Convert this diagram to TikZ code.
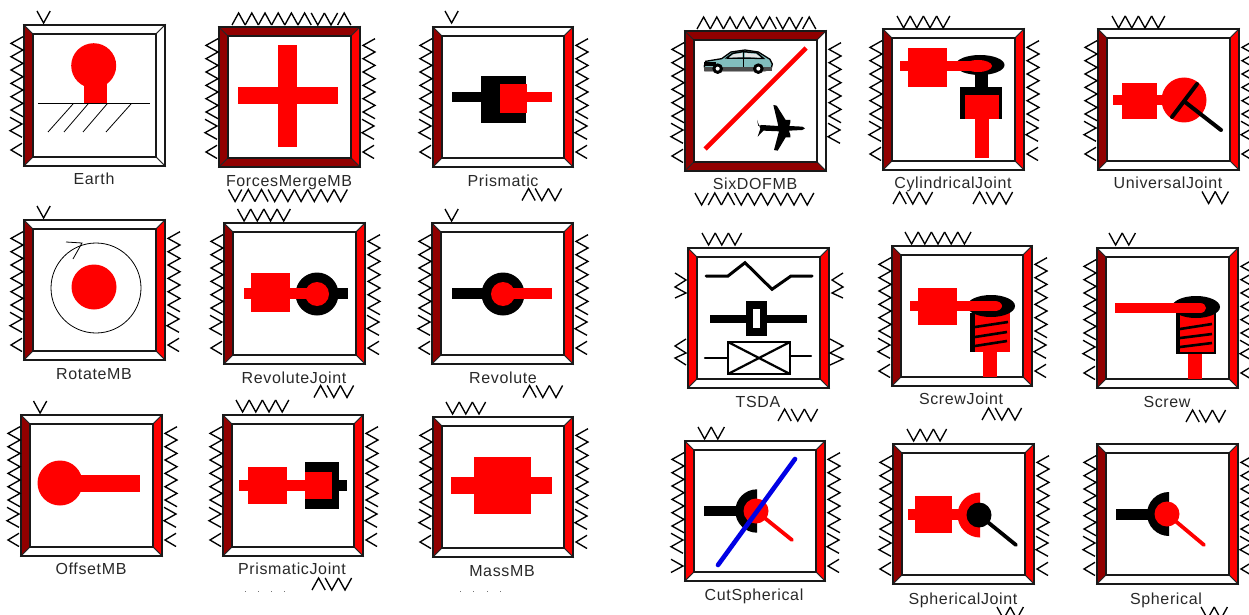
\documentclass[tikz,border=0pt]{standalone}
\usepackage{fontspec}
\setmainfont[LetterSpace=4]{Liberation Sans}
\definecolor{dk}{RGB}{145,0,0}
\definecolor{rd}{RGB}{255,0,0}
\definecolor{wh}{RGB}{255,255,255}
\definecolor{teal1}{RGB}{130,190,190}
\definecolor{txt}{RGB}{40,40,40}
\tikzset{
  portline/.style={line width=1.35pt,black,miter limit=10},
  bevel/.style={draw=black!85,line width=1pt,line join=miter},
  innerbox/.style={draw=black!90,line width=1.6pt,fill=white},
  lbl/.style={anchor=base,text=txt,inner sep=0pt,font=\fontsize{16}{18}\selectfont},
  thinl/.style={line width=0.8pt,black},
  rodr/.style={line width=3.8pt,rd,line cap=round},
  rodk/.style={line width=3.8pt,black,line cap=round}
}
% frame: x1 y1 x2 y2 left top right bottom
\newcommand\blockframe[8]{%
  \pgfmathsetmacro\xa{#1+9}\pgfmathsetmacro\xb{#3-9}%
  \pgfmathsetmacro\ya{#2+9}\pgfmathsetmacro\yb{#4-9}%
  \path[bevel,fill=#5] (#1,#2)--(\xa,\ya)--(\xa,\yb)--(#1,#4)--cycle;
  \path[bevel,fill=#6] (#1,#2)--(\xa,\ya)--(\xb,\ya)--(#3,#2)--cycle;
  \path[bevel,fill=#7] (#3,#2)--(\xb,\ya)--(\xb,\yb)--(#3,#4)--cycle;
  \path[bevel,fill=#8] (#1,#4)--(\xa,\yb)--(\xb,\yb)--(#3,#4)--cycle;
  \path[innerbox] (\xa,\ya) rectangle (\xb,\yb);
  \draw[black!90,line width=1.6pt] (#1,#2) rectangle (#3,#4);
}
\newcommand\zigtop{%
  \draw[portline] (-1,11.7)--(-13,18.4)--(-1,25)--(-13,31.7)--(-1,38.4)--(-13,45)--(-1,51.7)--(-13,58.4)--(-1,65)--(-13,71.7)--(-1,78.4)--(-13,85)--(-1,91.7);
  \draw[portline] (-14,92.3)--(-2,99)--(-14,105.7)--(-2,112.3);
}
\newcommand\portl[2]{\begin{scope}[shift={(#1,#2)}]\zigtop
  \draw[portline] (-2,118.3)--(-13,125)--(-2,131.5);\end{scope}}
\newcommand\portlcut[2]{\begin{scope}[shift={(#1,#2)}]\zigtop
  \draw[portline] (-14,118.3)--(-2,125)--(-14,131.5);\end{scope}}
\newcommand\portr[2]{\begin{scope}[shift={({#1+16},#2)}]\zigtop
  \draw[portline] (-2,118.3)--(-13,125)--(-2,131.5);\end{scope}}
\newcommand\portrshort[2]{\begin{scope}[shift={({#1+16},#2)}]\zigtop\end{scope}}
% glyph row: x0, ytop, list (1 = v, -1 = ^)
\newcommand\glyphs[3]{%
  \foreach \g [count=\ii from 0] in {#3}{%
    \draw[portline] ({#1+\ii*13.2},{#2+6-6*\g})--({#1+\ii*13.2+6.6},{#2+6+6*\g})--({#1+\ii*13.2+13.2},{#2+6-6*\g});
  }}
\begin{document}
\begin{tikzpicture}[x=1pt,y=-1pt]
\useasboundingbox (0,0) rectangle (1249,615);
\clip (0,0) rectangle (1249,615);

%% ---------- Earth
\blockframe{24}{25}{165}{166}{dk}{wh}{wh}{wh}
\portl{24}{25}
\glyphs{37}{11}{1}
\fill[rd] (93.7,65.7) circle (22.5);
\fill[rd] (84,80) rectangle (107,104);
\draw[thinl] (38,103.5)--(150,103.5);
\draw[thinl] (73,104)--(48,132);
\draw[thinl] (88,104)--(64,132);
\draw[thinl] (107,104)--(83,132);
\draw[thinl] (131,104)--(106,132);
\node[lbl] (earth) at (94,184) {Earth};

%% ---------- ForcesMergeMB
\blockframe{219}{27}{360}{167}{dk}{dk}{rd}{dk}
\portl{219}{27}\portr{360}{27}
\glyphs{232}{13}{-1,-1,-1,-1,-1,-1,1,1,-1}
\glyphs{228.5}{189.5}{1,-1,-1,1,1,1,1,1,1}
\fill[rd] (278,45) rectangle (297,147);
\fill[rd] (238,87) rectangle (338,104);
\node[lbl] (forces) at (289,186) {ForcesMergeMB};

%% ---------- Prismatic
\blockframe{433}{27}{573}{167}{dk}{wh}{rd}{wh}
\portl{433}{27}\portr{573}{27}
\glyphs{445}{11}{1}
\glyphs{522}{188.5}{-1,1,1}
\fill[black] (452,92) rectangle (481,102);
\fill[black] (481,76) rectangle (526,123);
\fill[rd] (500,84) rectangle (527,113);
\fill[rd] (527,92) rectangle (552,102);
\node[lbl] (prismatic) at (503,186) {Prismatic};

%% ---------- RotateMB
\blockframe{24}{220}{165}{360}{dk}{wh}{rd}{wh}
\portl{24}{220}\portr{165}{220}
\glyphs{37}{206}{1}
\draw[thinl] (96,288) circle (45);
\draw[thinl] (66,242)--(82,243)--(73,259);
\fill[rd] (94,287) circle (22.5);
\node[lbl] (rotate) at (94,379) {RotateMB};

%% ---------- RevoluteJoint
\blockframe{224}{223}{365}{364}{dk}{wh}{rd}{wh}
\portl{224}{223}\portr{365}{223}
\glyphs{237.5}{209}{1,1,1,1}
\glyphs{314}{385.5}{-1,1,1}
\fill[black] (317,294) circle (21.5);
\fill[black] (330,288) rectangle (348,299);
\fill[rd] (317,294) circle (12);
\fill[rd] (244,288) rectangle (317,299);
\fill[rd] (251,273) rectangle (290,312);
\node[lbl] (revjoint) at (294,383) {RevoluteJoint};

%% ---------- Revolute
\blockframe{432}{223}{573}{364}{dk}{wh}{rd}{wh}
\portl{432}{223}\portr{573}{223}
\glyphs{445}{209}{1}
\glyphs{523}{385.5}{-1,1,1}
\fill[black] (452,288) rectangle (490,299);
\fill[black] (503,294) circle (21.5);
\fill[rd] (503,294) circle (12);
\fill[rd] (503,288) rectangle (552,299);
\node[lbl] (revolute) at (503,383) {Revolute};

%% ---------- OffsetMB
\blockframe{21}{415}{162}{556}{dk}{wh}{rd}{wh}
\portl{21}{415}\portr{162}{415}
\glyphs{33.5}{401}{1}
\fill[rd] (60,483) circle (22.5);
\fill[rd] (70,475) rectangle (140,492);
\node[lbl] (offset) at (91,574) {OffsetMB};

%% ---------- PrismaticJoint
\blockframe{223}{415}{363}{556}{dk}{wh}{rd}{wh}
\portl{223}{415}\portr{363}{415}
\glyphs{236}{400}{1,1,1,1}
\glyphs{312}{578}{-1,1,1}
\fill[black] (305,462) rectangle (339,509);
\fill[black] (339,480) rectangle (347,491);
\fill[rd] (305,472) rectangle (332,499);
\fill[rd] (239,480) rectangle (305,491);
\fill[rd] (248,467) rectangle (287,504);
\foreach \dx in {245,258,271,284}{\fill[black!55] (\dx,591.4) rectangle ({\dx+1},592.4);}
\node[lbl] (prisjoint) at (292,574) {PrismaticJoint};

%% ---------- MassMB
\blockframe{433}{417}{573}{557}{dk}{wh}{rd}{wh}
\portl{433}{417}\portr{573}{417}
\glyphs{446}{402}{1,1,1}
\fill[rd] (474,457) rectangle (531,514);
\fill[rd] (451,477) rectangle (552,494);
\foreach \dx in {460,473,487,500}{\fill[black!55] (\dx,591.4) rectangle ({\dx+1},592.4);}
\node[lbl] (mass) at (502,576) {MassMB};

%% ---------- SixDOFMB
\blockframe{685}{31}{826}{171}{dk}{dk}{wh}{dk}
\portl{685}{31}\portrshort{826}{31}
\glyphs{697}{17}{-1,-1,-1,-1,-1,-1,1,1,-1}
\glyphs{695}{193}{1,-1,-1,1,1,1,1,1,1}
\draw[line width=4.6pt,rd] (705,149)--(806,48);
\begin{scope}[shift={(695,40)},scale=0.3333]
  \path[fill=teal1,draw=black,line width=1.3pt] (28,78)--(32,64)--(80,56)--(108,36)--(150,30)--(190,36)--(225,58)--(232,72)--(228,88)--(210,92)--(30,92)--cycle;
  \fill[black] (28,66) rectangle (62,78);
  \fill[black!70] (28,80) rectangle (230,94);
  \draw[black,line width=1.5pt] (95,54)--(113,40)--(143,35)--(185,38)--(205,55)--cycle;
  \draw[black,line width=1.2pt] (146,35)--(146,80);
  \fill[black!10] (116,43)--(142,39)--(142,51)--(102,53)--cycle;
  \fill[black!10] (150,39)--(183,42)--(198,53)--(150,51)--cycle;
  \fill[black] (68,86) circle (16);\fill[white] (68,86) circle (6);
  \fill[black] (190,86) circle (16);\fill[white] (190,86) circle (6);
  \fill[black] (190,258)--(200,255)--(250,258)--(235,195)--(245,197)--(272,240)--(286,240)--(286,247)--(283,258)--(322,260)--(330,265)--(322,270)--(282,272)--(286,285)--(286,292)--(272,292)--(248,332)--(237,330)--(252,274)--(205,272)--(188,290)--(196,266)--(186,240)--cycle;
\end{scope}
\node[lbl] (sixdof) at (755,189) {SixDOFMB};

%% ---------- CylindricalJoint
\blockframe{883}{29}{1024}{170}{dk}{wh}{rd}{wh}
\portl{883}{29}\portr{1024}{29}
\glyphs{897}{16}{1,1,1,1}
\glyphs{893}{192}{-1,1,1}
\glyphs{973}{192}{-1,1,1}
\fill[black] (980,65) ellipse (24.5 and 10);
\fill[black] (975,73) rectangle (988,87);
\fill[black] (960,87) rectangle (1002,119);
\fill[rd] (965,95) rectangle (999,119);
\fill[rd] (975,119) rectangle (989,158);
\fill[rd] (900,61) rectangle (975,71);
\fill[rd] (978,66) ellipse (14 and 6);
\fill[rd] (908,48) rectangle (947,87);
\node[lbl] (cyl) at (953,188) {CylindricalJoint};

%% ---------- UniversalJoint
\blockframe{1098}{29}{1239}{170}{dk}{wh}{rd}{wh}
\portl{1098}{29}\portr{1239}{29}
\glyphs{1112}{16}{1,1,1,1}
\glyphs{1202}{191.5}{1,1}
\fill[rd] (1184,100) circle (22.5);
\fill[rd] (1113,95) rectangle (1170,105);
\fill[rd] (1122,83) rectangle (1157,119);
\draw[rodk,line width=4pt] (1172,117)--(1197,84);
\draw[rodk,line width=4pt] (1185,102)--(1221,130);
\node[lbl] (univ) at (1168,188) {UniversalJoint};

%% ---------- TSDA
\blockframe{688}{248}{829}{388}{rd}{wh}{rd}{wh}
\glyphs{702}{233}{1,1,1}
\glyphs{778}{409}{-1,1,1}
\draw[portline] (675,273)--(686,280)--(675,287)--(686,293)--(675,298);
\draw[portline] (686,339)--(675,346)--(686,353)--(675,358)--(686,365);
\draw[portline] (843,273)--(832,280)--(843,287)--(832,293)--(843,298);
\draw[portline] (830,339)--(843,346)--(830,353)--(843,359)--(830,365);
\draw[line width=3pt,black,line cap=round,line join=miter] (706,276)--(728,276)--(745,262.7)--(772,289.3)--(791,276)--(812,276);
\fill[black] (710,315) rectangle (807,323);
\fill[black] (746,301) rectangle (767,336);
\fill[white] (753,309) rectangle (760,328);
\draw[black,line width=2.8pt] (728,342) rectangle (790,374);
\draw[black,line width=2.2pt] (728,342)--(790,374);
\draw[black,line width=2.2pt] (728,374)--(790,342);
\draw[black,line width=2.2pt,line cap=round] (705,358)--(728,358);
\draw[black,line width=2.2pt,line cap=round] (790,356)--(811,356);
\node[lbl] (tsda) at (758,407) {TSDA};

%% ---------- ScrewJoint
\blockframe{892}{246}{1032}{386}{dk}{wh}{rd}{wh}
\portl{892}{246}\portr{1032}{246}
\glyphs{905}{232}{1,1,1,1,1}
\glyphs{982}{408}{-1,1,1}
\fill[rd] (970,313) rectangle (1010,352);
\fill[black] (970,313) rectangle (975,352);
\draw[black,line width=2.6pt] (975,327)--(1008,322);
\draw[black,line width=2.6pt] (975,337)--(1007,332);
\draw[black,line width=2.6pt] (975,346)--(1007,341);
\fill[rd] (983,352) rectangle (997,377);
\fill[black] (991,306) ellipse (24 and 11);
\fill[rd] (910,301) rectangle (995,311);
\fill[rd] (995,306) ellipse (7 and 5);
\fill[rd] (918,288) rectangle (957,325);
\node[lbl] (screwjoint) at (961,404) {ScrewJoint};

%% ---------- Screw
\blockframe{1097}{248}{1238}{388}{dk}{wh}{rd}{wh}
\portl{1097}{248}\portr{1238}{248}
\glyphs{1109}{233}{1,1}
\glyphs{1186}{410}{-1,1,1}
\fill[black] (1176,313) rectangle (1216,354);
\fill[rd] (1180,313) rectangle (1214,352);
\draw[black,line width=2.6pt] (1180,329)--(1212,324);
\draw[black,line width=2.6pt] (1180,338)--(1212,334);
\draw[black,line width=2.6pt] (1180,347)--(1212,343);
\fill[rd] (1188,354) rectangle (1202,379);
\fill[black] (1196,307) ellipse (24 and 11);
\fill[rd] (1115,303) rectangle (1200,313);
\fill[rd] (1200,308) ellipse (6 and 5);
\node[lbl] (screw) at (1167,407) {Screw};

%% ---------- CutSpherical
\blockframe{685}{441}{825}{581}{rd}{wh}{rd}{wh}
\portlcut{685}{441}\portr{825}{441}
\glyphs{698}{427}{1,1}
\fill[black] (704,506) rectangle (740,516);
\fill[black] (757,532.7) arc (90:270:21.7) -- cycle;
\draw[rodr] (756,511)--(792,540);
\fill[rd] (756,511) circle (12.5);
\draw[line width=4.6pt,blue!90!black,line cap=round] (718,565)--(795,459);
\node[lbl] (cut) at (754,600) {CutSpherical};

%% ---------- SphericalJoint
\blockframe{893}{444}{1034}{584}{dk}{wh}{rd}{wh}
\portl{893}{444}\portr{1034}{444}
\glyphs{907}{429}{1,1,1}
\glyphs{997}{607}{1,1}
\fill[rd] (980,537.5) arc (90:270:22.5) -- cycle;
\fill[rd] (908,509) rectangle (970,520);
\fill[rd] (915,496) rectangle (952,533);
\fill[black] (979,515) circle (12.5);
\draw[rodk] (979,515)--(1016,545);
\node[lbl] (spherjoint) at (963,604) {SphericalJoint};

%% ---------- Spherical
\blockframe{1097}{444}{1238}{584}{dk}{wh}{rd}{wh}
\portl{1097}{444}\portr{1238}{444}
\glyphs{1201}{607}{1,1}
\fill[black] (1116,509) rectangle (1150,520);
\fill[black] (1169,536) arc (90:270:22) -- cycle;
\draw[rodr] (1167,514)--(1204,545);
\fill[rd] (1167,514) circle (12.5);
\node[lbl] (spher) at (1166,604) {Spherical};
\end{tikzpicture}
\end{document}
